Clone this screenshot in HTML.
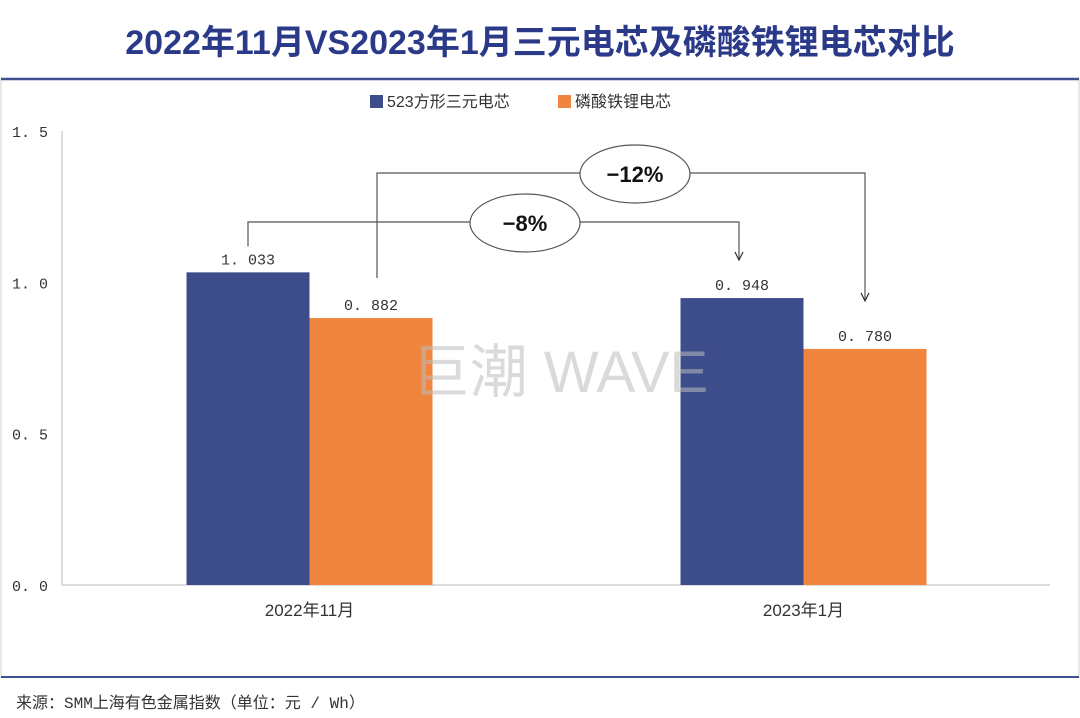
<!DOCTYPE html>
<html><head><meta charset="utf-8"><style>
body{margin:0;background:#fff;}
svg{display:block;}
text{font-family:"Liberation Sans","Noto Sans CJK SC",sans-serif;}
.mono{font-family:"Liberation Mono","Noto Sans CJK SC",monospace;}
</style></head><body>
<svg id="chart" width="1080" height="718" viewBox="0 0 1080 718" xmlns="http://www.w3.org/2000/svg">
<text x="540" y="54" text-anchor="middle" font-size="34" font-weight="bold" fill="#2b3a88">2022年11月VS2023年1月三元电芯及磷酸铁锂电芯对比</text>
<rect x="1" y="79" width="1078" height="598" fill="none" stroke="#d0d0d0" stroke-width="1"/>
<line x1="1" y1="79" x2="1079" y2="79" stroke="#3d4f8f" stroke-width="2.5"/>
<line x1="1" y1="677" x2="1079" y2="677" stroke="#3d4f8f" stroke-width="2"/>
<g>
<rect x="370" y="95" width="13" height="13" fill="#3d4d8c"/>
<text x="387" y="107" font-size="16" fill="#333">523方形三元电芯</text>
<rect x="558" y="95" width="13" height="13" fill="#ef853e"/>
<text x="575" y="107" font-size="16" fill="#333">磷酸铁锂电芯</text>
</g>
<g id="plot"></g>
<text x="560" y="392" text-anchor="middle" font-size="58" fill="#bbbbbb" fill-opacity="0.55">巨潮 WAVE</text>
<text x="16" y="708" font-size="16" fill="#333" class="mono">来源：SMM上海有色金属指数（单位：元 / Wh）</text>
</svg>
<script>
const categories = ["2022年11月", "2023年1月"];
const ncmValues = [1.033, 0.948];
const lfpValues = [0.882, 0.780];
const valueLabels = [["1.033","0.882"],["0.948","0.780"]];
const yTicks = [0, 0.5, 1.0, 1.5];
const yTickLabels = ["0.0","0.5","1.0","1.5"];
const changeLabels = ["-8%", "-12%"];

const NS = "http://www.w3.org/2000/svg";
const g = document.getElementById("plot");
const x0 = 62, x1 = 1050, yBase = 585, yTop = 131;
const y = v => yBase - (v / 1.5) * (yBase - yTop);
const band = (x1 - x0) / categories.length;
const xc = i => x0 + band * (i + 0.5) + 0.5;
const bw = 123;
function el(tag, attrs) { const e = document.createElementNS(NS, tag); for (const k in attrs) e.setAttribute(k, attrs[k]); g.appendChild(e); return e; }

let a = el("line", {x1: x0, y1: yTop, x2: x0, y2: yBase, stroke: "#d0d0d0", "stroke-width": 1.5});


a = el("line", {x1: x0, y1: yBase, x2: x1, y2: yBase, stroke: "#d0d0d0", "stroke-width": 1.5});



yTicks.forEach((t, i) => {
  const tx = el("text", {x: 48, y: y(t) + 6, "text-anchor": "end", "font-size": 15, fill: "#333", class: "mono"});
  tx.textContent = yTickLabels[i].replace(".", ". ");
  
  
});

const tops = [];
categories.forEach((c, i) => {
  const cx = xc(i);
  const series = [[ncmValues[i], "#3d4d8c", cx - bw], [lfpValues[i], "#ef853e", cx]];
  tops.push([]);
  series.forEach((s, j) => {
    const r = el("rect", {x: s[2], y: y(s[0]), width: bw, height: yBase - y(s[0]), fill: s[1]});
    
    
    const t = el("text", {x: s[2] + bw / 2, y: y(s[0]) - 8, "text-anchor": "middle", "font-size": 15, fill: "#333", class: "mono"});
    t.textContent = valueLabels[i][j].replace(".", ". ");
    
    
    tops[i].push([s[2] + bw / 2, y(s[0])]);
  });
  const lab = el("text", {x: cx, y: yBase + 31, "text-anchor": "middle", "font-size": 17, fill: "#333"});
  lab.textContent = c;
  
  
});

function annot(fromX, fromY, toX, toY, lineY, ex, label) {
  const ps = el("polyline", {points: `${fromX},${fromY} ${fromX},${lineY} ${toX},${lineY} ${toX},${toY}`, fill: "none", stroke: "#555", "stroke-width": 1.2});
  
  
  const ar = el("polyline", {points: `${toX-4},${toY-8} ${toX},${toY} ${toX+4},${toY-8}`, fill: "none", stroke: "#333", "stroke-width": 1.2});
  
  
  const e = el("ellipse", {cx: ex, cy: lineY + 1, rx: 55, ry: 29, fill: "#fff", stroke: "#555", "stroke-width": 1.2});
  
  
  const t = el("text", {x: ex, y: lineY + 9, "text-anchor": "middle", "font-size": 22, "font-weight": "bold", fill: "#111"});
  t.textContent = label.replace("-", "−");
  
  
}
annot(tops[0][0][0], tops[0][0][1] - 26, tops[1][0][0] - 3, tops[1][0][1] - 38, 222, 525, changeLabels[0]);
annot(tops[0][1][0] + 6, tops[0][1][1] - 40, tops[1][1][0], tops[1][1][1] - 48, 173, 635, changeLabels[1]);
</script>
</body></html>
